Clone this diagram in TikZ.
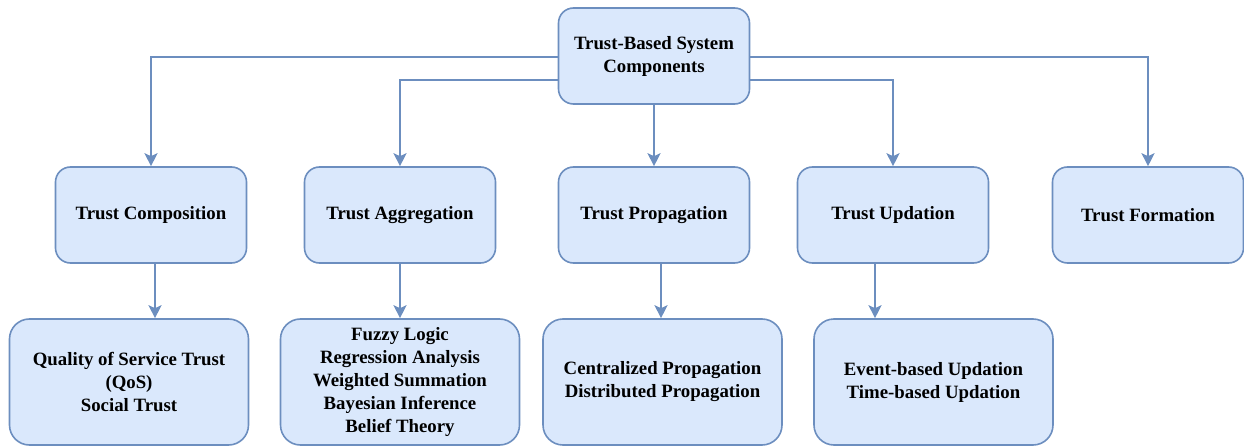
\documentclass[tikz,border=0pt]{standalone}
\usepackage{fontspec}
\setmainfont{Liberation Serif}[BoldFont={Liberation Serif Bold}]
\newfontfamily\tnrfont{Liberation Serif}[BoldFont={Liberation Serif Bold}]
\usetikzlibrary{arrows.meta}
\definecolor{bstroke}{HTML}{6C8EBF}
\definecolor{bfill}{HTML}{DAE8FC}
\begin{document}
\begin{tikzpicture}[x=1pt,y=-1pt,
  box/.style={draw=bstroke, fill=bfill, line width=1.6pt, rounded corners=15pt,
    align=center, inner sep=2pt,
    font=\tnrfont\fontsize{18.8}{23}\selectfont\bfseries},
  row2/.style={box, minimum width=191pt, minimum height=96pt},
  row3/.style={box, minimum width=239pt, minimum height=126pt, rounded corners=20pt},
  arr/.style={draw=bstroke, line width=1.8pt, -{Stealth[width=13pt,length=13pt,inset=3pt]}}]
\useasboundingbox (0,0) rectangle (1244,446);
\node[row2] (root) at (654,56) {Trust-Based System\\Components};
\node[row2] (comp) at (151,215) {Trust Composition};
\node[row2] (agg) at (400,215) {Trust Aggregation};
\node[row2] (prop) at (654,215) {Trust Propagation};
\node[row2] (upd) at (893,215) {Trust Updation};
\node[row2] (form) at (1148,215) {Trust Formation};
\node[row3] (qos) at (129,382) {Quality of Service Trust\\(QoS)\\Social Trust};
\node[row3] (aggc) at (400,382) {Fuzzy Logic\\Regression Analysis\\Weighted Summation\\Bayesian Inference\\Belief Theory};
\node[row3] (propc) at (662.5,382) {Centralized Propagation\\Distributed Propagation};
\node[row3] (updc) at (933.5,382) {Event-based Updation\\Time-based Updation};
\draw[arr] ([yshift=-1pt]root.west) -| (comp.north);
\draw[arr] ([yshift=-24pt]root.west) -| (agg.north);
\draw[arr] ([yshift=-1pt]root.east) -| (form.north);
\draw[arr] ([yshift=-24pt]root.east) -| (upd.north);
\draw[arr] (root.south) -- (prop.north);
\draw[arr] ([xshift=4pt]comp.south) -- ([xshift=4pt]comp.south |- qos.north);
\draw[arr] (agg.south) -- (agg.south |- aggc.north);
\draw[arr] ([xshift=7pt]prop.south) -- ([xshift=7pt]prop.south |- propc.north);
\draw[arr] ([xshift=-18pt]upd.south) -- ([xshift=-18pt]upd.south |- updc.north);
\end{tikzpicture}
\end{document}
